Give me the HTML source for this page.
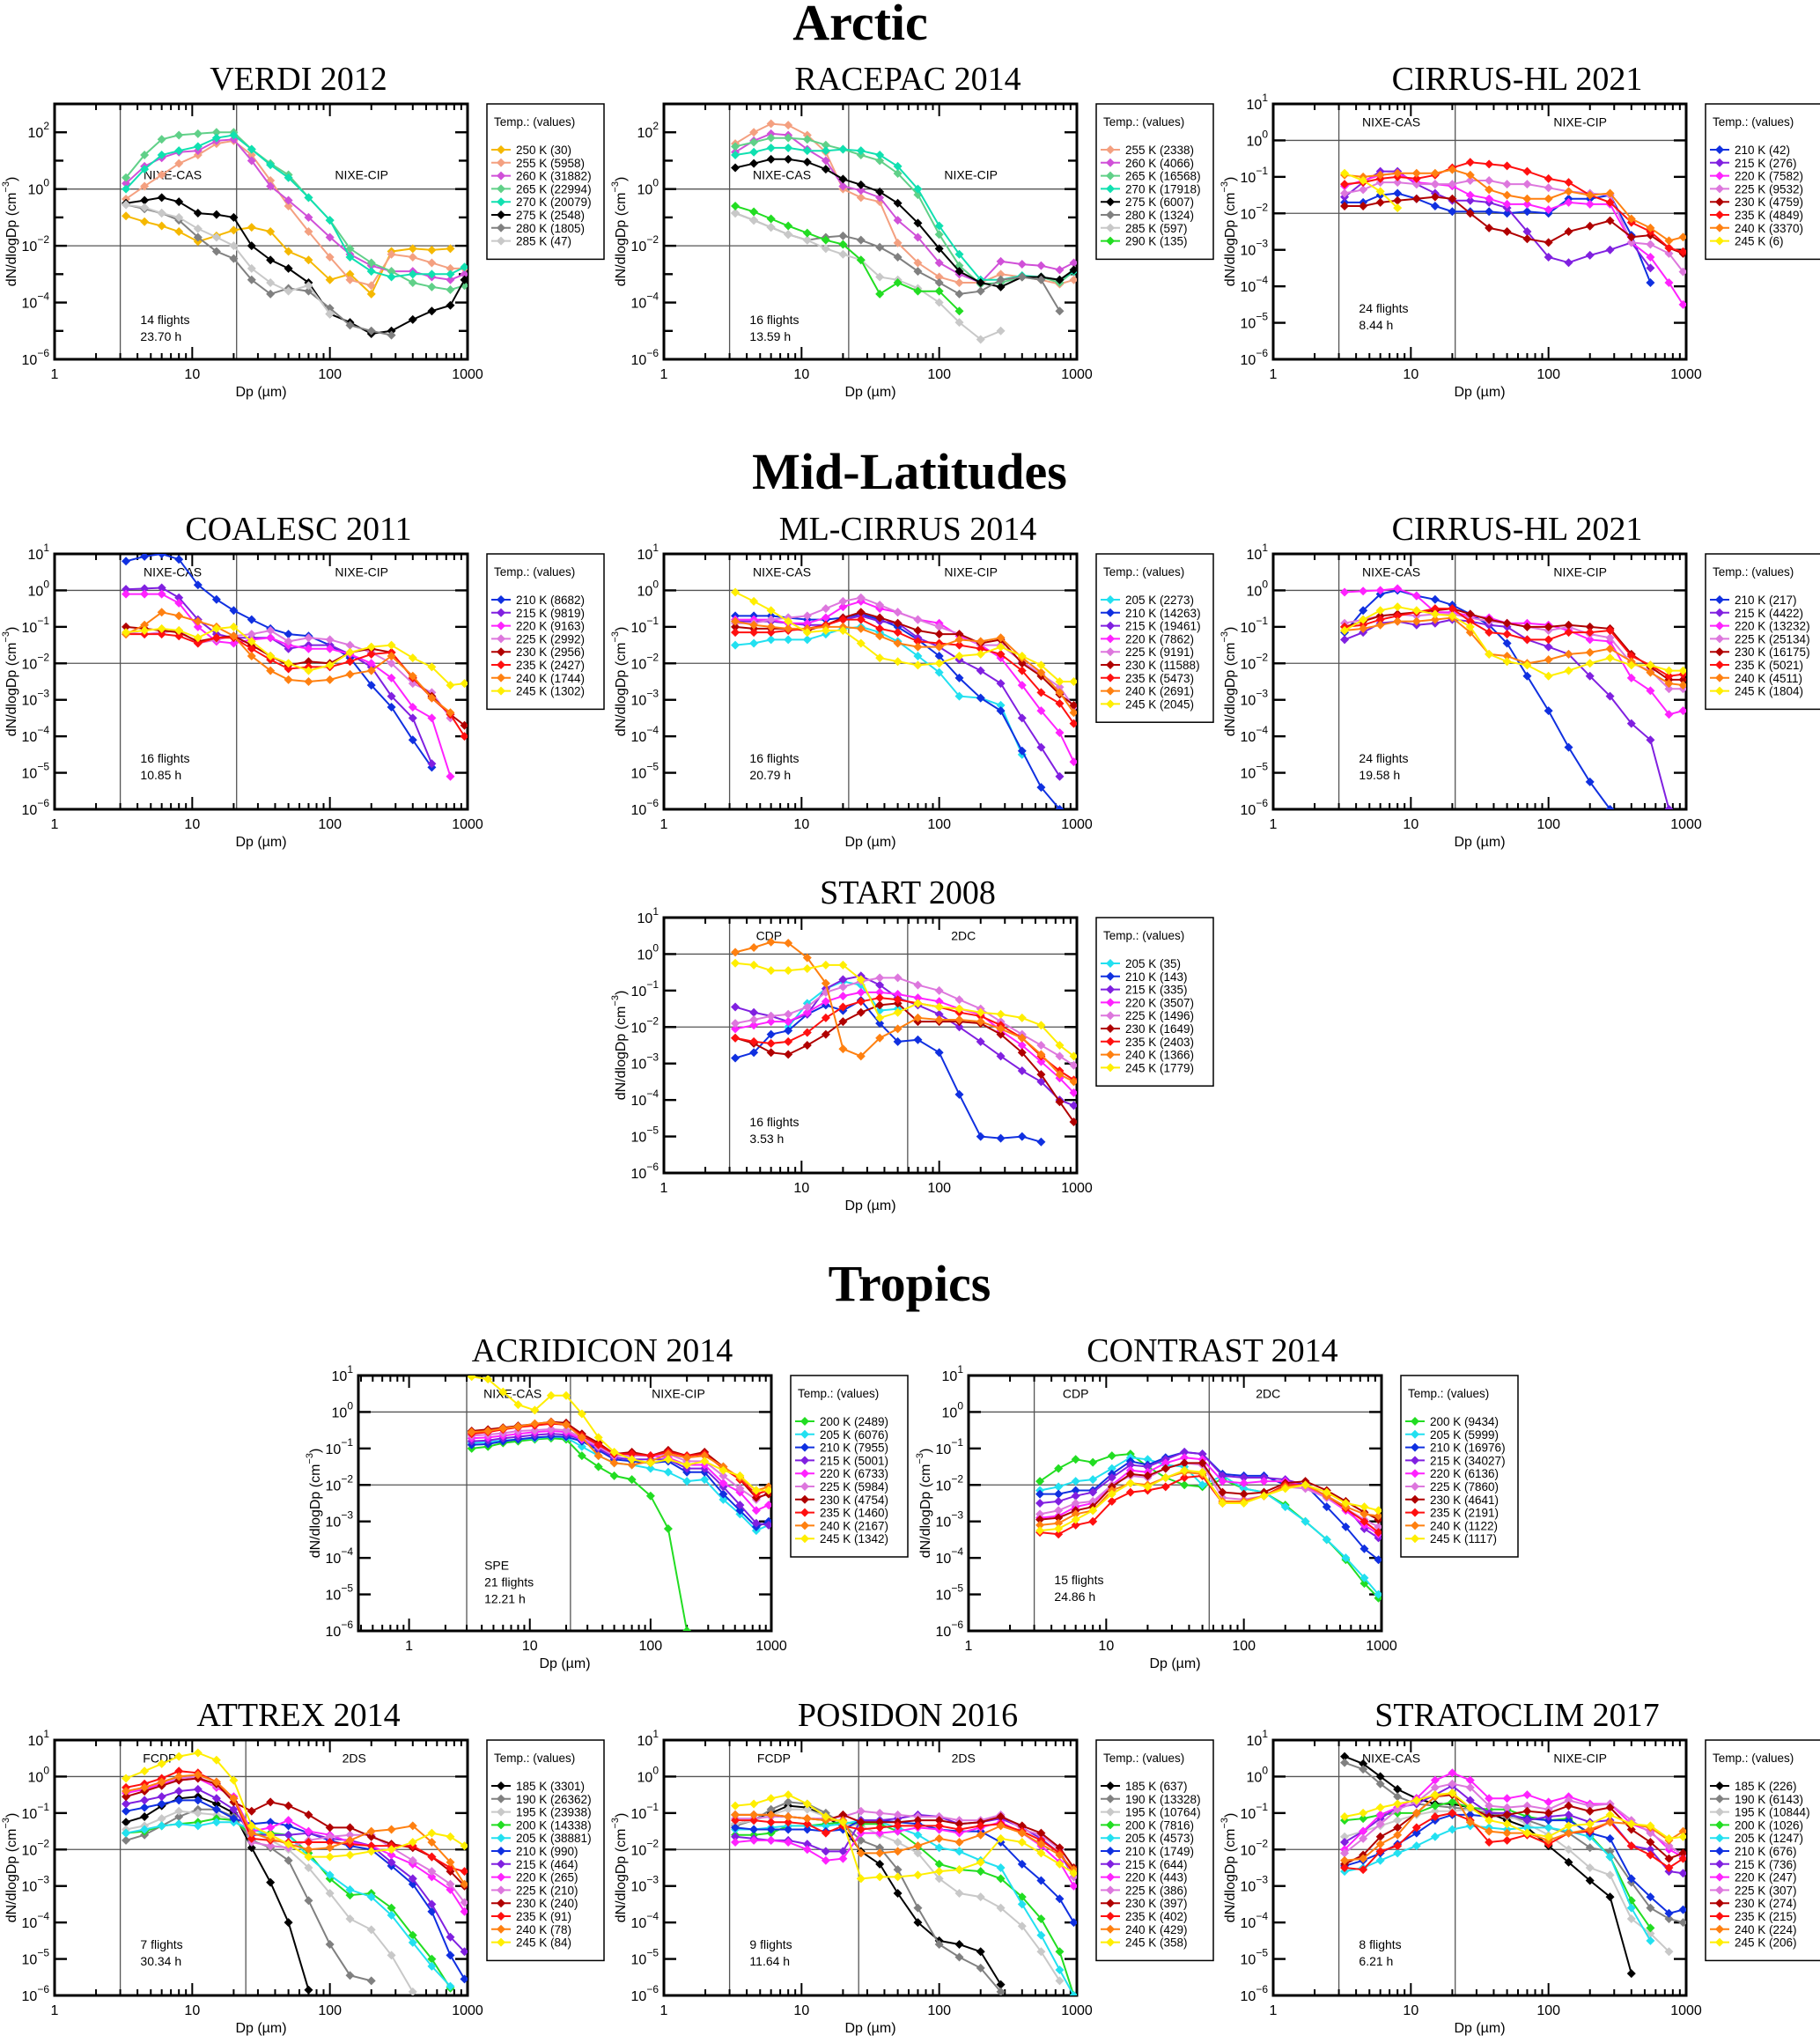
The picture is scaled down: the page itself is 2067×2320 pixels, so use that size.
<!DOCTYPE html>
<html><head><meta charset="utf-8"><title>Ice crystal size distributions</title>
<style>
html,body{margin:0;padding:0;background:#fff;}
svg{display:block;}
.tick{font-family:"Liberation Sans",sans-serif;font-size:16px;fill:#000;}
.ann{font-family:"Liberation Sans",sans-serif;font-size:14px;fill:#000;}
.leg{font-family:"Liberation Sans",sans-serif;font-size:13.5px;fill:#000;}
.ptitle{font-family:"Liberation Serif",serif;font-size:38px;fill:#000;}
.stitle{font-family:"Liberation Serif",serif;font-size:58px;font-weight:bold;fill:#000;}
</style></head>
<body>
<svg id="fig" xmlns="http://www.w3.org/2000/svg" width="2067" height="2320" viewBox="0 0 2067 2320">
<rect x="0" y="0" width="2067" height="2320" fill="#fff"/>
<text class="stitle" x="977" y="45" text-anchor="middle">Arctic</text>
<text class="stitle" x="1033" y="555" text-anchor="middle">Mid-Latitudes</text>
<text class="stitle" x="1033" y="1477" text-anchor="middle">Tropics</text>
</svg>
<script>
// shared size-bin grid (µm)
const dpBins = [3.3,4.5,6,8,11,15,20,27,37,50,70,100,140,200,280,400,550,750,950];
const xTickLabels = ["1","10","100","1000"];
const N = null;

// ---- VERDI 2012 ----
const verdiTemps = [250,255,260,265,270,275,280,285];
const verdiCounts = [30,5958,31882,22994,20079,2548,1805,47];
const verdiValues = [
 [-0.95,-1.15,-1.3,-1.5,-1.85,-1.65,-1.45,-1.35,-1.5,-2.2,-2.5,-3.2,-3.0,-3.7,-2.2,-2.1,-2.15,-2.1,N],
 [-0.35,0.1,0.5,0.9,1.2,1.6,1.7,1.2,0.3,-0.6,-1.5,-2.4,-3.2,-3.4,-2.3,-2.4,-2.6,-2.8,-2.8],
 [0.2,0.8,1.1,1.3,1.35,1.7,1.75,1.0,0.1,-0.4,-1.0,-1.7,-2.3,-2.7,-2.9,-2.9,-3.1,-3.2,-3.0],
 [0.4,1.2,1.75,1.9,1.95,2.0,2.0,1.4,0.9,0.5,-0.3,-1.1,-2.1,-2.6,-2.9,-3.3,-3.45,-3.55,-3.4],
 [0.0,0.7,1.2,1.35,1.5,1.8,1.9,1.4,0.85,0.4,-0.3,-1.1,-2.4,-2.9,-3.1,-3.0,-3.0,-3.0,-2.75],
 [-0.5,-0.4,-0.3,-0.45,-0.85,-0.9,-1.0,-2.0,-2.5,-2.8,-3.3,-4.4,-4.7,-5.1,-5.0,-4.6,-4.3,-4.1,-3.2],
 [-0.55,-0.7,-0.85,-1.1,-1.7,-2.2,-2.45,-3.2,-3.7,-3.5,-3.6,-4.2,-4.8,-5.0,-5.15,N,N,N,N],
 [-0.55,-0.65,-0.85,-1.0,-1.4,-1.7,-2.0,-2.8,-3.3,-3.6,-3.4,-4.4,N,N,N,N,N,N,N]
];
// ---- RACEPAC 2014 ----
const racepacTemps = [255,260,265,270,275,280,285,290];
const racepacCounts = [2338,4066,16568,17918,6007,1324,597,135];
const racepacValues = [
 [1.6,2.0,2.3,2.25,1.9,1.3,0.0,-0.3,-0.45,-1.9,-2.6,-3.1,-3.3,-3.3,-3.0,-3.1,-3.2,-3.35,-3.2],
 [1.3,1.7,1.95,1.9,1.4,1.0,0.1,-0.05,-0.3,-1.1,-1.7,-2.6,-3.0,-3.3,-2.55,-2.65,-2.7,-2.85,-2.6],
 [1.5,1.65,1.8,1.8,1.75,1.55,1.4,1.2,1.0,0.55,-0.2,-1.6,-2.7,-3.35,-3.3,-3.1,-3.1,-3.3,-2.9],
 [1.2,1.3,1.45,1.45,1.35,1.35,1.4,1.35,1.2,0.8,0.0,-1.3,-2.3,-3.2,-3.2,-3.05,-3.1,-3.2,-2.9],
 [0.75,0.9,1.05,1.05,0.95,0.7,0.35,0.15,-0.1,-0.5,-1.2,-2.1,-2.9,-3.3,-3.45,-3.1,-3.1,-3.2,-2.85],
 [-0.85,-1.1,-1.35,-1.6,-1.8,-1.7,-1.65,-1.8,-2.05,-2.4,-2.9,-3.3,-3.7,-3.6,-3.2,-3.1,-3.2,-4.3,N],
 [-0.85,-1.1,-1.35,-1.6,-1.8,-2.1,-2.3,-2.5,-3.1,-3.2,-3.5,-4.0,-4.7,-5.3,-5.0,N,N,N,N],
 [-0.6,-0.8,-1.05,-1.3,-1.55,-1.8,-1.95,-2.5,-3.7,-3.3,-3.6,-3.6,-4.3,N,N,N,N,N,N]
];
// ---- CIRRUS-HL 2021 (Arctic) ----
const chlaTemps = [210,215,220,225,230,235,240,245];
const chlaCounts = [42,276,7582,9532,4759,4849,3370,6];
const chlaValues = [
 [-1.7,-1.7,-1.5,-1.45,-1.6,-1.8,-1.95,-1.95,-1.95,-2.0,-1.95,-2.0,-1.6,-1.6,-1.5,-2.6,-3.9,N,N],
 [-1.55,-1.15,-0.85,-0.85,-1.2,-1.45,-1.65,-1.65,-1.7,-1.85,-2.5,-3.2,-3.35,-3.15,-3.0,-2.8,-3.5,N,N],
 [-1.25,-1.1,-0.95,-0.9,-1.15,-1.2,-1.25,-1.5,-1.6,-1.75,-1.75,-1.9,-1.7,-1.75,-1.75,-2.8,-3.2,-3.9,-4.5],
 [-1.45,-1.35,-1.15,-1.15,-1.2,-1.2,-1.2,-1.1,-1.1,-1.2,-1.2,-1.3,-1.4,-1.45,-1.5,-2.8,-2.85,-3.1,-3.6],
 [-1.8,-1.8,-1.7,-1.65,-1.6,-1.55,-1.6,-2.0,-2.4,-2.5,-2.7,-2.8,-2.5,-2.35,-2.2,-2.65,-2.6,-2.95,-3.1],
 [-1.2,-1.15,-1.05,-1.0,-1.05,-0.95,-0.75,-0.6,-0.65,-0.7,-0.85,-1.05,-1.15,-1.5,-1.7,-2.25,-2.5,-2.95,-3.05],
 [-0.95,-1.0,-0.95,-0.9,-0.9,-0.9,-0.8,-0.95,-1.35,-1.5,-1.6,-1.6,-1.4,-1.5,-1.45,-2.15,-2.4,-2.75,-2.65],
 [-0.9,-1.1,-1.4,-1.85,N,N,N,N,N,N,N,N,N,N,N,N,N,N,N]
];
// ---- COALESC 2011 ----
const coalTemps = [210,215,220,225,230,235,240,245];
const coalCounts = [8682,9819,9163,2992,2956,2427,1744,1302];
const coalValues = [
 [0.8,0.93,1.0,0.85,0.15,-0.25,-0.55,-0.8,-1.05,-1.2,-1.25,-1.5,-1.85,-2.6,-3.2,-4.1,-4.85,N,N],
 [0.03,0.05,0.07,-0.2,-0.8,-1.2,-1.3,-1.3,-1.3,-1.6,-1.5,-1.5,-1.75,-2.1,-2.9,-3.5,-4.75,N,N],
 [-0.1,-0.1,-0.1,-0.35,-1.0,-1.4,-1.45,-1.35,-1.3,-1.5,-1.6,-1.6,-1.75,-2.0,-2.4,-3.2,-3.5,-5.1,N],
 [-1.15,-1.2,-1.15,-1.1,-1.45,-1.35,-1.25,-1.2,-1.1,-1.4,-1.3,-1.35,-1.5,-1.7,-2.0,-2.55,-2.8,-3.5,N],
 [-1.0,-1.05,-1.1,-1.15,-1.4,-1.3,-1.25,-1.5,-1.8,-2.05,-1.95,-2.0,-1.7,-1.6,-1.7,-2.4,-2.9,-3.4,-3.7],
 [-1.2,-1.2,-1.2,-1.25,-1.45,-1.3,-1.3,-1.6,-1.9,-2.15,-2.1,-2.1,-1.95,-1.75,-1.7,-2.4,-2.95,-3.4,-4.0],
 [-1.2,-0.95,-0.6,-0.7,-0.85,-1.0,-1.25,-1.8,-2.2,-2.45,-2.5,-2.45,-2.3,-2.2,-1.8,-2.35,-2.95,-3.35,N],
 [-1.15,-1.1,-1.05,-1.1,-1.3,-1.05,-1.0,-1.4,-1.8,-2.0,-2.2,-2.05,-1.7,-1.55,-1.5,-1.85,-2.1,-2.6,-2.55]
];
// ---- ML-CIRRUS 2014 ----
const mlcTemps = [205,210,215,220,225,230,235,240,245];
const mlcCounts = [2273,14263,19461,7862,9191,11588,5473,2691,2045];
const mlcValues = [
 [-1.5,-1.45,-1.35,-1.35,-1.35,-1.2,-1.05,-1.0,-1.15,-1.4,-1.8,-2.25,-2.9,-2.95,-3.15,-4.5,N,N,N],
 [-0.7,-0.7,-0.7,-0.75,-0.8,-0.8,-0.75,-0.65,-0.8,-1.0,-1.35,-1.8,-2.4,-2.95,-3.3,-4.4,-5.4,-6.0,N],
 [-0.85,-0.85,-0.85,-0.9,-0.95,-0.95,-0.8,-0.7,-0.85,-0.9,-1.3,-1.55,-1.9,-2.2,-2.55,-3.5,-4.3,-5.1,N],
 [-0.8,-0.8,-0.8,-0.9,-0.9,-0.75,-0.45,-0.3,-0.5,-0.6,-0.8,-0.9,-1.25,-1.5,-1.85,-2.6,-3.3,-3.9,-4.7],
 [-0.9,-0.9,-0.8,-0.75,-0.7,-0.5,-0.3,-0.2,-0.4,-0.6,-0.8,-1.0,-1.2,-1.5,-1.5,-1.95,-2.3,-2.65,-3.2],
 [-1.0,-1.05,-1.05,-1.05,-1.1,-0.95,-0.75,-0.6,-0.75,-0.9,-1.1,-1.2,-1.2,-1.45,-1.35,-2.0,-2.35,-2.85,-3.15],
 [-1.15,-1.15,-1.15,-1.1,-1.05,-0.95,-0.8,-0.8,-1.05,-1.15,-1.4,-1.45,-1.5,-1.6,-1.75,-2.2,-2.8,-3.1,-3.65],
 [-0.85,-0.95,-1.0,-1.05,-1.05,-1.0,-1.0,-1.05,-1.25,-1.45,-1.55,-1.55,-1.35,-1.4,-1.3,-1.85,-2.25,-2.8,-3.35],
 [-0.05,-0.3,-0.55,-0.85,-1.15,-1.1,-1.1,-1.45,-1.85,-1.95,-2.05,-2.0,-1.8,-1.75,-1.55,-1.8,-2.05,-2.5,-2.5]
];
// ---- CIRRUS-HL 2021 (Mid-latitudes) ----
const chlmTemps = [210,215,220,225,230,235,240,245];
const chlmCounts = [217,4422,13232,25134,16175,5021,4511,1804];
const chlmValues = [
 [-1.15,-0.55,-0.1,0.0,-0.15,-0.25,-0.4,-0.65,-0.95,-1.45,-2.35,-3.3,-4.3,-5.25,-6.0,N,N,N,N],
 [-1.35,-1.15,-0.9,-0.85,-0.95,-0.9,-0.8,-0.85,-0.95,-1.0,-1.35,-1.55,-1.75,-2.35,-2.9,-3.65,-4.1,-6.0,N],
 [-0.05,-0.02,0.0,0.05,-0.15,-0.6,-0.6,-0.7,-0.75,-0.9,-0.9,-0.95,-1.1,-1.35,-1.4,-2.4,-2.75,-3.4,-3.3],
 [-0.9,-0.8,-0.7,-0.65,-0.7,-0.65,-0.65,-0.75,-0.85,-0.9,-1.0,-1.1,-1.0,-1.2,-1.3,-2.0,-2.2,-2.7,-2.7],
 [-1.0,-0.85,-0.7,-0.65,-0.6,-0.55,-0.5,-0.65,-0.8,-0.9,-1.0,-1.0,-0.95,-1.0,-1.05,-1.75,-2.1,-2.45,-2.45],
 [-1.0,-0.95,-0.8,-0.7,-0.6,-0.5,-0.5,-0.85,-1.15,-1.2,-1.35,-1.35,-1.15,-1.15,-1.1,-1.8,-2.05,-2.35,-2.3],
 [-1.1,-1.05,-0.95,-0.85,-0.85,-0.8,-0.75,-1.15,-1.75,-1.8,-2.0,-1.9,-1.75,-1.7,-1.6,-1.95,-2.25,-2.55,-2.6],
 [-1.1,-0.8,-0.55,-0.45,-0.55,-0.65,-0.7,-1.0,-1.75,-1.95,-2.05,-2.35,-2.2,-2.0,-1.85,-2.05,-2.05,-2.2,-2.2]
];
// ---- START 2008 ----
const startTemps = [205,210,215,220,225,230,235,240,245];
const startCounts = [35,143,335,3507,1496,1649,2403,1366,1779];
const startValues = [
 [N,N,N,-2.0,-1.35,-0.95,-0.75,-0.85,-1.55,-1.5,N,N,N,N,N,N,N,N,N],
 [-2.85,-2.7,-2.2,-2.1,-1.65,-1.4,-1.55,-1.27,-1.9,-2.4,-2.35,-2.7,-3.85,-5.0,-5.05,-5.0,-5.15,N,N],
 [-1.45,-1.6,-1.7,-1.85,-1.65,-0.95,-0.7,-0.6,-0.85,-1.2,-1.4,-1.65,-2.0,-2.4,-2.8,-3.2,-3.5,-4.0,-4.15],
 [-2.05,-1.95,-1.85,-1.85,-1.6,-1.3,-1.15,-1.05,-1.05,-1.1,-1.2,-1.3,-1.5,-1.65,-2.1,-2.5,-2.95,-3.4,-3.8],
 [-1.9,-1.8,-1.7,-1.65,-1.45,-1.05,-0.9,-0.75,-0.65,-0.65,-0.85,-1.0,-1.25,-1.5,-1.85,-2.2,-2.5,-2.8,-3.05],
 [-2.3,-2.45,-2.7,-2.75,-2.5,-2.2,-1.85,-1.6,-1.4,-1.35,-1.85,-1.85,-1.85,-1.9,-2.2,-2.7,-3.3,-4.05,-4.6],
 [-2.3,-2.4,-2.45,-2.4,-2.15,-1.75,-1.45,-1.3,-1.2,-1.25,-1.35,-1.45,-1.6,-1.7,-1.95,-2.3,-2.8,-3.2,-3.45],
 [0.05,0.18,0.33,0.3,-0.1,-0.8,-2.6,-2.8,-2.3,-2.05,-1.75,-1.8,-1.8,-1.85,-2.05,-2.3,-2.75,-3.3,-3.5],
 [-0.25,-0.3,-0.45,-0.45,-0.4,-0.3,-0.3,-0.7,-1.75,-1.6,-1.35,-1.45,-1.5,-1.6,-1.65,-1.75,-1.95,-2.5,-2.8]
];
// ---- ACRIDICON 2014 ----
const acriTemps = [200,205,210,215,220,225,230,235,240,245];
const acriCounts = [2489,6076,7955,5001,6733,5984,4754,1460,2167,1342];
const acriValues = [
 [-1.0,-0.95,-0.85,-0.8,-0.75,-0.72,-0.75,-1.2,-1.5,-1.75,-1.85,-2.3,-3.2,-6.0,N,N,N,N,N],
 [-0.85,-0.82,-0.78,-0.75,-0.72,-0.68,-0.7,-0.95,-1.2,-1.4,-1.45,-1.55,-1.65,-1.9,-1.85,-2.4,-2.8,-3.25,-3.1],
 [-0.9,-0.88,-0.8,-0.75,-0.7,-0.67,-0.68,-0.8,-1.05,-1.3,-1.35,-1.4,-1.35,-1.65,-1.65,-2.25,-2.7,-3.15,-3.0],
 [-0.8,-0.78,-0.72,-0.68,-0.63,-0.6,-0.62,-0.75,-1.0,-1.25,-1.3,-1.3,-1.3,-1.55,-1.55,-2.05,-2.55,-3.05,-3.1],
 [-0.72,-0.7,-0.65,-0.6,-0.55,-0.52,-0.55,-0.75,-0.95,-1.2,-1.2,-1.2,-1.25,-1.45,-1.45,-1.95,-2.2,-2.7,-2.55],
 [-0.65,-0.62,-0.58,-0.52,-0.5,-0.47,-0.5,-0.7,-0.95,-1.2,-1.2,-1.2,-1.15,-1.35,-1.35,-1.75,-2.1,-2.4,-2.2],
 [-0.52,-0.48,-0.43,-0.38,-0.33,-0.27,-0.3,-0.6,-0.85,-1.15,-1.1,-1.2,-1.05,-1.2,-1.1,-1.5,-1.85,-2.35,-2.25],
 [-0.6,-0.55,-0.48,-0.42,-0.37,-0.32,-0.35,-0.65,-0.9,-1.15,-1.15,-1.2,-1.1,-1.2,-1.15,-1.55,-1.85,-2.25,-2.15],
 [-0.55,-0.52,-0.45,-0.4,-0.32,-0.28,-0.35,-0.7,-1.2,-1.4,-1.45,-1.35,-1.15,-1.25,-1.2,-1.5,-1.8,-2.15,-2.05],
 [0.97,0.9,0.55,0.2,0.05,0.45,0.45,-0.05,-0.7,-1.1,-1.3,-1.4,-1.3,-1.45,-1.35,-1.6,-1.75,-2.15,-2.15]
];
// ---- CONTRAST 2014 ----
const contTemps = [200,205,210,215,220,225,230,235,240,245];
const contCounts = [9434,5999,16976,34027,6136,7860,4641,2191,1122,1117];
const contValues = [
 [-1.9,-1.55,-1.3,-1.38,-1.2,-1.15,-1.5,-1.8,-2.0,-2.05,-1.85,-2.1,-2.2,-2.55,-3.0,-3.5,-4.05,-4.7,-5.1],
 [-2.15,-2.05,-1.9,-1.85,-1.55,-1.25,-1.3,-1.45,-1.5,-2.0,-1.75,-2.1,-2.2,-2.6,-3.0,-3.5,-4.0,-4.55,-5.0],
 [-2.25,-2.25,-2.15,-2.15,-1.7,-1.35,-1.45,-1.25,-1.1,-1.15,-1.7,-1.75,-1.75,-2.0,-2.0,-2.6,-3.15,-3.75,-4.05],
 [-2.5,-2.45,-2.3,-2.2,-1.8,-1.45,-1.5,-1.3,-1.1,-1.15,-1.75,-1.8,-1.8,-1.85,-2.0,-2.3,-2.6,-3.2,-3.45],
 [-2.9,-2.85,-2.6,-2.5,-2.0,-1.6,-1.65,-1.4,-1.25,-1.3,-1.9,-1.95,-1.9,-1.9,-2.05,-2.35,-2.7,-3.1,-3.35],
 [-2.8,-2.7,-2.5,-2.45,-2.0,-1.75,-1.8,-1.55,-1.4,-1.45,-2.35,-2.4,-2.3,-2.05,-2.1,-2.35,-2.65,-2.95,-3.15],
 [-2.95,-2.9,-2.7,-2.6,-2.05,-1.7,-1.75,-1.55,-1.4,-1.4,-2.2,-2.25,-2.2,-1.95,-1.9,-2.15,-2.45,-2.75,-2.95],
 [-3.3,-3.35,-3.1,-3.0,-2.45,-2.2,-2.15,-2.05,-1.8,-1.75,-2.5,-2.45,-2.3,-2.0,-2.0,-2.3,-2.65,-3.0,-3.3],
 [-3.1,-3.05,-2.8,-2.7,-2.15,-1.95,-2.0,-1.8,-1.65,-1.7,-2.45,-2.45,-2.3,-2.05,-2.0,-2.3,-2.6,-2.8,-2.85],
 [-3.25,-3.2,-2.95,-2.7,-2.25,-1.95,-2.05,-1.8,-1.6,-1.65,-2.5,-2.5,-2.3,-2.1,-2.0,-2.2,-2.5,-2.6,-2.7]
];
// ---- ATTREX 2014 ----
const attrTemps = [185,190,195,200,205,210,215,220,225,230,235,240,245];
const attrCounts = [3301,26362,23938,14338,38881,990,464,265,210,240,91,78,84];
const attrValues = [
 [-1.25,-1.1,-0.8,-0.6,-0.55,-0.75,-1.0,-1.95,-2.9,-4.0,-5.85,N,N,N,N,N,N,N,N],
 [-1.75,-1.6,-1.35,-1.1,-0.9,-0.9,-1.1,-1.75,-1.95,-2.3,-3.4,-4.6,-5.45,-5.6,N,N,N,N,N],
 [-1.45,-1.35,-1.15,-0.95,-1.0,-1.05,-1.2,-1.5,-1.75,-2.0,-2.5,-3.2,-3.9,-4.2,-4.9,-5.9,N,N,N],
 [-1.55,-1.5,-1.35,-1.3,-1.25,-1.15,-1.2,-1.6,-1.55,-1.6,-2.1,-2.8,-3.25,-3.2,-3.6,-4.35,-5.0,-5.8,N],
 [-1.55,-1.45,-1.35,-1.3,-1.35,-1.25,-1.25,-1.45,-1.6,-1.6,-2.2,-2.7,-3.1,-3.3,-3.8,-4.55,-5.2,-5.75,N],
 [-0.95,-0.85,-0.75,-0.65,-0.65,-0.9,-1.15,-1.3,-1.25,-1.35,-1.55,-1.75,-1.9,-2.0,-2.45,-2.95,-3.7,-4.9,-5.55],
 [-0.75,-0.65,-0.55,-0.4,-0.35,-0.6,-0.9,-1.6,-1.6,-1.6,-1.55,-1.7,-1.75,-1.9,-2.35,-2.8,-3.5,-4.4,-4.8],
 [-0.45,-0.35,-0.2,-0.1,-0.05,-0.3,-0.55,-1.5,-1.4,-1.2,-1.5,-1.6,-1.8,-1.9,-2.15,-2.4,-2.75,-3.1,-3.7],
 [-0.4,-0.3,-0.15,-0.05,0.0,-0.25,-0.6,-1.8,-1.9,-1.95,-1.75,-1.65,-1.6,-1.6,-1.95,-2.3,-2.6,-2.95,-3.45],
 [-0.55,-0.4,-0.25,-0.1,-0.05,-0.2,-0.7,-0.95,-0.7,-0.8,-1.05,-1.4,-1.4,-1.65,-1.85,-1.95,-2.2,-2.6,-3.0],
 [-0.3,-0.2,-0.05,0.15,0.1,-0.15,-0.6,-1.7,-1.75,-1.8,-1.8,-1.8,-1.85,-1.9,-1.9,-1.9,-2.2,-2.5,-2.6],
 [-0.4,-0.3,-0.15,0.0,0.05,-0.15,-0.6,-1.55,-1.7,-1.85,-2.0,-1.95,-1.75,-1.5,-1.45,-1.35,-1.8,-2.35,-2.95],
 [-0.05,0.15,0.35,0.55,0.65,0.45,-0.1,-1.35,-1.6,-1.85,-2.2,-2.2,-2.15,-2.05,-2.0,-1.8,-1.55,-1.65,-1.9]
];
// ---- POSIDON 2016 ----
const posiTemps = [185,190,195,200,205,210,215,220,225,230,235,240,245];
const posiCounts = [637,13328,10764,7816,4573,1749,644,443,386,397,402,429,358];
const posiValues = [
 [-1.3,-1.2,-1.0,-0.8,-0.85,-1.1,-1.4,-2.05,-2.4,-3.2,-4.0,-4.5,-4.6,-4.8,-5.7,N,N,N,N],
 [-1.35,-1.2,-0.9,-0.7,-0.75,-1.0,-1.3,-1.75,-1.95,-2.55,-3.6,-4.6,-4.95,-5.25,-5.9,N,N,N,N],
 [-1.3,-1.2,-1.05,-0.9,-0.9,-1.1,-1.3,-1.35,-1.6,-1.8,-2.1,-2.8,-3.2,-3.3,-3.6,-4.1,-4.8,-5.6,N],
 [-1.6,-1.6,-1.55,-1.35,-1.35,-1.3,-1.25,-1.3,-1.3,-1.5,-1.9,-2.4,-2.55,-2.6,-2.8,-3.3,-3.9,-4.8,-6.0],
 [-1.45,-1.45,-1.4,-1.35,-1.35,-1.35,-1.3,-1.2,-1.25,-1.4,-1.6,-1.95,-2.05,-2.3,-2.5,-3.5,-4.35,-5.3,-6.0],
 [-1.4,-1.45,-1.45,-1.45,-1.45,-1.5,-1.45,-1.2,-1.2,-1.25,-1.3,-1.45,-1.5,-1.5,-1.8,-2.4,-2.85,-3.35,-4.0],
 [-1.65,-1.7,-1.75,-1.75,-1.85,-2.05,-2.05,-1.2,-1.2,-1.15,-1.05,-1.1,-1.3,-1.25,-1.15,-1.4,-1.7,-2.1,-2.75],
 [-1.8,-1.75,-1.75,-1.8,-2.0,-2.3,-2.25,-1.55,-1.55,-1.5,-1.4,-1.45,-1.55,-1.4,-1.25,-1.55,-1.9,-2.35,-3.0],
 [-1.15,-1.15,-1.1,-1.1,-1.15,-1.15,-1.1,-0.95,-1.0,-1.05,-1.1,-1.1,-1.2,-1.2,-1.05,-1.45,-1.6,-2.0,-2.75],
 [-1.05,-1.05,-1.05,-1.1,-1.15,-1.2,-1.05,-1.25,-1.25,-1.25,-1.2,-1.2,-1.3,-1.25,-1.1,-1.35,-1.55,-1.95,-2.5],
 [-1.2,-1.2,-1.25,-1.25,-1.3,-1.55,-1.35,-1.45,-1.4,-1.35,-1.35,-1.35,-1.45,-1.35,-1.3,-1.5,-1.75,-2.1,-2.65],
 [-1.05,-1.05,-1.05,-1.1,-1.15,-1.2,-1.2,-2.1,-2.1,-2.05,-1.9,-1.7,-1.8,-1.6,-1.35,-1.55,-1.85,-2.15,-2.55],
 [-0.8,-0.75,-0.6,-0.5,-0.75,-1.1,-1.25,-2.8,-2.75,-2.75,-2.7,-2.6,-2.55,-2.35,-1.7,-1.8,-2.1,-2.4,-2.65]
];
// ---- STRATOCLIM 2017 ----
const stratTemps = [185,190,195,200,205,210,215,220,225,230,235,240,245];
const stratCounts = [226,6143,10844,1026,1247,676,736,247,307,274,215,224,206];
const stratValues = [
 [0.55,0.35,0.0,-0.35,-0.6,-0.75,-0.75,-0.85,-1.0,-1.2,-1.4,-1.9,-2.35,-2.85,-3.3,-5.4,N,N,N],
 [0.38,0.2,-0.2,-0.55,-0.75,-0.8,-0.85,-0.9,-1.0,-1.1,-1.2,-1.4,-1.55,-1.95,-2.05,-2.9,-3.6,-3.9,-4.0],
 [-1.65,-1.5,-1.35,-1.2,-1.05,-0.95,-0.95,-0.9,-0.95,-1.05,-1.3,-1.6,-2.0,-2.5,-2.7,-3.9,-4.3,-4.8,N],
 [-1.2,-1.15,-1.05,-1.0,-1.0,-0.8,-0.7,-0.85,-0.9,-0.9,-1.1,-1.2,-1.15,-1.6,-2.2,-3.4,-4.15,N,N],
 [-2.6,-2.5,-2.3,-2.1,-1.9,-1.65,-1.45,-1.35,-1.4,-1.45,-1.4,-1.4,-1.5,-1.65,-2.2,-3.6,-4.5,N,N],
 [-2.45,-2.3,-2.1,-1.85,-1.55,-1.2,-1.05,-1.05,-1.1,-1.05,-1.15,-1.2,-1.2,-1.55,-1.7,-2.8,-3.3,-3.75,-3.65],
 [-1.8,-1.5,-1.15,-0.85,-0.75,-0.5,-0.25,-0.65,-1.0,-1.0,-1.2,-1.1,-1.05,-1.25,-1.2,-1.9,-2.0,-2.6,-2.65],
 [-2.0,-1.5,-1.05,-0.85,-0.6,-0.1,0.1,-0.1,-0.6,-0.6,-0.5,-0.7,-0.55,-0.75,-0.75,-1.3,-1.5,-2.0,-2.2],
 [-2.1,-1.7,-1.3,-0.9,-0.7,-0.3,-0.2,-0.3,-0.8,-0.85,-0.8,-0.9,-0.65,-0.8,-0.75,-1.2,-1.55,-1.9,-2.15],
 [-2.4,-2.15,-1.65,-1.4,-1.0,-0.55,-0.5,-0.85,-1.1,-1.05,-0.95,-1.0,-0.8,-0.95,-0.85,-1.45,-1.8,-2.25,-2.1],
 [-2.5,-2.55,-2.05,-1.9,-1.4,-1.1,-1.0,-1.2,-1.8,-1.75,-1.6,-1.85,-1.55,-1.5,-1.25,-1.9,-2.15,-2.5,-2.25],
 [-2.3,-2.25,-1.85,-1.6,-1.0,-0.55,-0.45,-1.25,-1.5,-1.55,-1.55,-1.75,-1.55,-1.45,-1.25,-1.3,-1.4,-1.75,-1.5],
 [-1.1,-1.0,-0.85,-0.75,-0.65,-0.5,-0.45,-0.85,-1.2,-1.3,-1.55,-1.65,-1.35,-1.3,-1.05,-1.3,-1.35,-1.7,-1.65]
];

const tropColors = {185:"#000000",190:"#808080",195:"#c8c8c8",200:"#22dd22",205:"#22e0f0",210:"#1030e0",215:"#8020e0",220:"#ff22ff",225:"#dd77dd",230:"#b00000",235:"#ff1010",240:"#ff8010",245:"#ffee00"};
const arcColors = {250:"#f5b800",255:"#f4a080",260:"#d050d8",265:"#60d088",270:"#10e0b0",275:"#000000",280:"#808080",285:"#c8c8c8",290:"#22dd22"};

const W = 469, H = 290;
const panels = [
 {id:"verdi",x:62,y:118,title:"VERDI 2012",ymin:-6,ymax:3,step:2,split:21,inst:["NIXE-CAS","NIXE-CIP"],notes:["14 flights","23.70 h"],temps:verdiTemps,counts:verdiCounts,vals:verdiValues,pal:arcColors},
 {id:"racepac",x:754,y:118,title:"RACEPAC 2014",ymin:-6,ymax:3,step:2,split:22,inst:["NIXE-CAS","NIXE-CIP"],notes:["16 flights","13.59 h"],temps:racepacTemps,counts:racepacCounts,vals:racepacValues,pal:arcColors},
 {id:"cirrushl-arctic",x:1446,y:118,title:"CIRRUS-HL 2021",ymin:-6,ymax:1,step:1,split:21,inst:["NIXE-CAS","NIXE-CIP"],notes:["24 flights","8.44 h"],temps:chlaTemps,counts:chlaCounts,vals:chlaValues,pal:tropColors},
 {id:"coalesc",x:62,y:629,title:"COALESC 2011",ymin:-6,ymax:1,step:1,split:21,inst:["NIXE-CAS","NIXE-CIP"],notes:["16 flights","10.85 h"],temps:coalTemps,counts:coalCounts,vals:coalValues,pal:tropColors},
 {id:"mlcirrus",x:754,y:629,title:"ML-CIRRUS 2014",ymin:-6,ymax:1,step:1,split:22,inst:["NIXE-CAS","NIXE-CIP"],notes:["16 flights","20.79 h"],temps:mlcTemps,counts:mlcCounts,vals:mlcValues,pal:tropColors},
 {id:"cirrushl-mid",x:1446,y:629,title:"CIRRUS-HL 2021",ymin:-6,ymax:1,step:1,split:21,inst:["NIXE-CAS","NIXE-CIP"],notes:["24 flights","19.58 h"],temps:chlmTemps,counts:chlmCounts,vals:chlmValues,pal:tropColors},
 {id:"start",x:754,y:1042,title:"START 2008",ymin:-6,ymax:1,step:1,split:59,inst:["CDP","2DC"],instX:[5.8,150],notes:["16 flights","3.53 h"],temps:startTemps,counts:startCounts,vals:startValues,pal:tropColors},
 {id:"acridicon",x:407,y:1562,title:"ACRIDICON 2014",ymin:-6,ymax:1,step:1,split:21.7,xmin:-0.42,inst:["NIXE-CAS","NIXE-CIP"],notes:["SPE","21 flights","12.21 h"],temps:acriTemps,counts:acriCounts,vals:acriValues,pal:tropColors},
 {id:"contrast",x:1100,y:1562,title:"CONTRAST 2014",ymin:-6,ymax:1,step:1,split:56,inst:["CDP","2DC"],instX:[6,150],notes:["15 flights","24.86 h"],temps:contTemps,counts:contCounts,vals:contValues,pal:tropColors},
 {id:"attrex",x:62,y:1976,title:"ATTREX 2014",ymin:-6,ymax:1,step:1,split:24.5,inst:["FCDP","2DS"],instX:[5.8,150],notes:["7 flights","30.34 h"],temps:attrTemps,counts:attrCounts,vals:attrValues,pal:tropColors},
 {id:"posidon",x:754,y:1976,title:"POSIDON 2016",ymin:-6,ymax:1,step:1,split:26,inst:["FCDP","2DS"],instX:[6.3,150],notes:["9 flights","11.64 h"],temps:posiTemps,counts:posiCounts,vals:posiValues,pal:tropColors},
 {id:"stratoclim",x:1446,y:1976,title:"STRATOCLIM 2017",ymin:-6,ymax:1,step:1,split:21,inst:["NIXE-CAS","NIXE-CIP"],notes:["8 flights","6.21 h"],temps:stratTemps,counts:stratCounts,vals:stratValues,pal:tropColors}
];

const NS = "http://www.w3.org/2000/svg";
const svg = document.getElementById("fig");
function mk(tag, attrs, parent){const e=document.createElementNS(NS,tag);for(const k in attrs)e.setAttribute(k,attrs[k]);(parent||svg).appendChild(e);return e;}

function drawPanel(p){
  const g = mk("g",{});
  
  
  const xmin = (p.xmin===undefined)?0:p.xmin, xmax = 3;
  const xs = d => p.x + (Math.log10(d)-xmin)/(xmax-xmin)*W;
  const ys = v => p.y + (p.ymax - v)/(p.ymax-p.ymin)*H;
  // title
  const t = mk("text",{class:"ptitle",x:p.x+277,y:p.y-16,"text-anchor":"middle"},g);
  t.textContent = p.title;
  
  
  // clip
  const cid = "clip-"+p.id;
  const cp = mk("clipPath",{id:cid},g);
  mk("rect",{x:p.x,y:p.y,width:W,height:H},cp);
  // grid lines
  [0,-2].forEach(v=>{const l=mk("line",{x1:p.x,x2:p.x+W,y1:ys(v),y2:ys(v),stroke:"#555","stroke-width":1.3},g);
    
    });
  [3,p.split].forEach(d=>{const l=mk("line",{x1:xs(d),x2:xs(d),y1:p.y,y2:p.y+H,stroke:"#555","stroke-width":1.3},g);
    
    });
  // ticks x
  for(let e=-1;e<3;e++){for(let m=1;m<10;m++){const d=m*Math.pow(10,e);const lg=Math.log10(d);if(lg<xmin-1e-6||lg>3)continue;
    const len=(m===1)?14:7;const X=xs(d);
    mk("line",{x1:X,x2:X,y1:p.y+H,y2:p.y+H-len,stroke:"#000","stroke-width":2},g);
    mk("line",{x1:X,x2:X,y1:p.y,y2:p.y+len,stroke:"#000","stroke-width":2},g);}}
  mk("line",{x1:xs(1000),x2:xs(1000),y1:p.y+H,y2:p.y+H-14,stroke:"#000","stroke-width":2},g);
  xTickLabels.forEach((lab,i)=>{const tx=mk("text",{class:"tick",x:xs(Math.pow(10,i)),y:p.y+H+22,"text-anchor":"middle"},g);tx.textContent=lab;
    
    });
  // ticks y
  for(let v=p.ymin; v<=p.ymax; v++){const Y=ys(v);const major=((v-p.ymin)%p.step===0);const len=major?14:10;
    mk("line",{x1:p.x,x2:p.x+len,y1:Y,y2:Y,stroke:"#000","stroke-width":2.4},g);
    mk("line",{x1:p.x+W,x2:p.x+W-len,y1:Y,y2:Y,stroke:"#000","stroke-width":2.4},g);
    if(major){const tx=mk("text",{class:"tick",x:p.x-6,y:Y+6,"text-anchor":"end"},g);
      
      
      const a=mk("tspan",{},tx);a.textContent="10";
      const b=mk("tspan",{dy:-9,"font-size":"12px"},tx);b.textContent=String(v).replace("-","\u2212");}}
  // frame
  const fr=mk("rect",{x:p.x,y:p.y,width:W,height:H,fill:"none",stroke:"#000","stroke-width":3},g);
  
  
  // axis titles
  const yt=mk("text",{class:"tick",transform:`translate(${p.x-44},${p.y+H/2}) rotate(-90)`,"text-anchor":"middle"},g);
  
  
  const y1=mk("tspan",{},yt);y1.textContent="dN/dlogDp (cm";
  const y2=mk("tspan",{dy:-8,"font-size":"11px"},yt);y2.textContent="\u22123";
  const y3=mk("tspan",{dy:8},yt);y3.textContent=")";
  const xt=mk("text",{class:"tick",x:p.x+W/2,y:p.y+H+42,"text-anchor":"middle"},g);xt.textContent="Dp (\u00b5m)";
  
  
  // instrument labels
  const ix = p.instX || [7.2,170];
  p.inst.forEach((s,i)=>{const tx=mk("text",{class:"ann",x:xs(ix[i]),y:ys(0.5)+5,"text-anchor":"middle"},g);tx.textContent=s;
    
    });
  // notes
  const nstart = p.notes.length===3? -4.2 : -4.6;
  p.notes.forEach((s,i)=>{const tx=mk("text",{class:"ann",x:xs(4.2),y:ys(nstart)+5+i*19,"text-anchor":"start"},g);tx.textContent=s;
    
    });
  // series
  const sg = mk("g",{"clip-path":`url(#${cid})`},g);
  p.vals.forEach((arr,si)=>{
    const col = p.pal[p.temps[si]];
    const s = mk("g",{},sg);
    
    
    let seg=[];const segs=[];
    arr.forEach((v,i)=>{if(v===null){if(seg.length)segs.push(seg);seg=[];}else seg.push([xs(dpBins[i]),ys(v)]);});
    if(seg.length)segs.push(seg);
    segs.forEach(sq=>{const pl=mk("polyline",{points:sq.map(q=>q[0].toFixed(1)+","+q[1].toFixed(1)).join(" "),fill:"none",stroke:col,"stroke-width":2},s);
      
      
      sq.forEach(q=>{const m=mk("path",{d:`M${q[0]-5},${q[1]}L${q[0]},${q[1]-5}L${q[0]+5},${q[1]}L${q[0]},${q[1]+5}Z`,fill:col},s);
        
        });});
  });
  // legend
  const n = p.temps.length;
  const lx = p.x+W+22, ly = p.y, lw = 133, lh = 50+n*14.8+8;
  const lg = mk("g",{},g);
  
  
  mk("rect",{x:lx,y:ly,width:lw,height:lh,fill:"#fff",stroke:"#000","stroke-width":1.5},lg);
  const lt=mk("text",{class:"leg",x:lx+8,y:ly+25},lg);lt.textContent="Temp.: (values)";
  p.temps.forEach((T,i)=>{const col=p.pal[T];const yy=ly+52+i*14.8;
    const e=mk("g",{},lg);
    
    
    mk("line",{x1:lx+5,x2:lx+27,y1:yy,y2:yy,stroke:col,"stroke-width":2},e);
    mk("path",{d:`M${lx+11},${yy}L${lx+16},${yy-5}L${lx+21},${yy}L${lx+16},${yy+5}Z`,fill:col},e);
    const tx=mk("text",{class:"leg",x:lx+33,y:yy+5},e);tx.textContent=`${T} K (${p.counts[i]})`;});
}
panels.forEach(drawPanel);
</script>
</body></html>
